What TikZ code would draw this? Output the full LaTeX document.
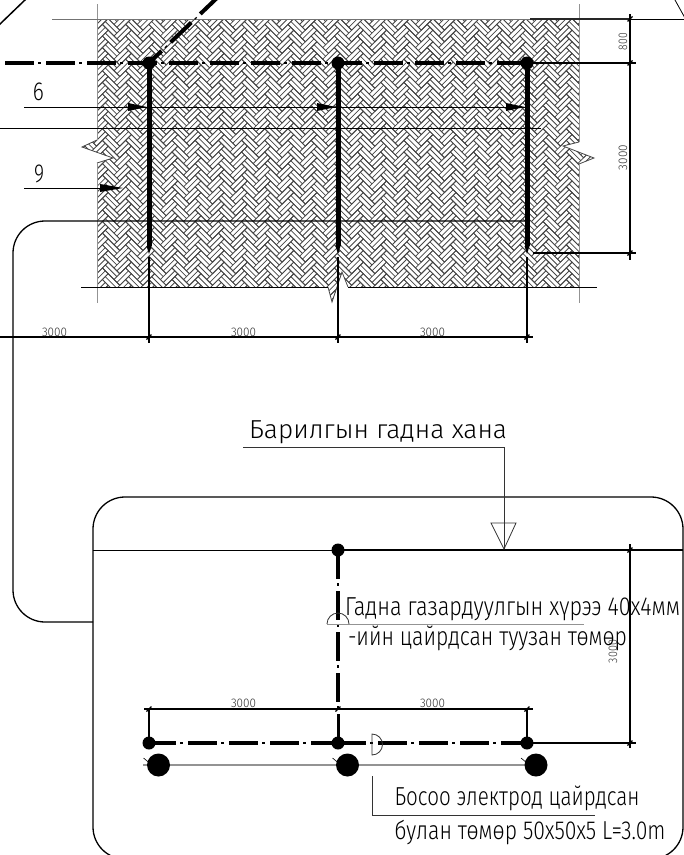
\documentclass[tikz,border=0pt]{standalone}
\usepackage{fontspec}
\usepackage{graphicx}
\setmainfont{Fira Sans Light}
\definecolor{hatchc}{gray}{0.27}
\definecolor{dimc}{gray}{0.2}
\tikzset{
  txt/.style={inner sep=0pt,outer sep=0pt,anchor=base west,text=black,font=\fontsize{26}{26}\selectfont},
  dimtxt/.style={inner sep=0pt,outer sep=0pt,anchor=base west,text=dimc,font=\fontsize{12.5}{13}\selectfont},
  thin line/.style={line width=0.8pt,black},
  mid line/.style={line width=1.3pt,black},
  gray line/.style={line width=1pt,gray!85},
  ground/.style={line width=4pt,black,dash pattern=on 28.5pt off 12.5pt},
  grounddot/.style={line width=1.3pt,black,dash pattern=on 3pt off 38pt},
  rod/.style={line width=5pt,black},
  stub/.style={line width=1.7pt,black},
  tip/.style={fill=black,draw=none},
}
\newcommand{\fitw}[2]{\resizebox{#1pt}{\height}{#2}}
\newcommand{\tickmark}[1]{\draw[line width=1.3pt] ($#1+(-2.5,2.5)$) -- ($#1+(2.5,-2.5)$);}
\usetikzlibrary{calc}
\begin{document}
\begin{tikzpicture}[x=1pt,y=-1pt]
\useasboundingbox (0,0) rectangle (684,855);
\clip (0,0) rectangle (684,855);
% ---- hatched ground
\begin{scope}
\clip (97,19) -- (579,19) -- (579,142) -- (563,146) -- (594,158) -- (579,164) -- (579,287) -- (348,287) -- (342,272) -- (332,302) -- (328,287) -- (97,287) -- (97,163) -- (113,158) -- (82,147) -- (97,140) -- cycle;
\begin{scope}[shift={(85,7)},rotate=-45]
\def\aa{8.2}
\foreach \k in {-3,...,28}{
 \foreach \m in {-2,...,24}{
  \pgfmathsetmacro{\uu}{(\k+2*\m)*\aa}
  \pgfmathsetmacro{\vv}{(\k-2*\m)*\aa}
  \draw[line width=0.8pt,hatchc] (\uu,\vv) rectangle ++(2*\aa,\aa)
     (\uu,\vv+0.5*\aa) -- ++(2*\aa,0)
     (\uu+2*\aa,\vv-\aa) rectangle ++(\aa,2*\aa)
     (\uu+2.5*\aa,\vv-\aa) -- ++(0,2*\aa);
 }}
\end{scope}
\end{scope}
% ---- hatch outline
\draw[thin line,hatchc] (97,163) -- (113,158) -- (82,147) -- (97,140);
\draw[thin line,hatchc] (579,142) -- (563,146) -- (594,158) -- (579,164);
\draw[thin line,hatchc] (328,287) -- (332,302) -- (342,272) -- (348,287);
\draw[gray line] (97,4) -- (97,140) (97,163) -- (97,303);
\draw[gray line] (579,4) -- (579,142) (579,164) -- (579,303);
\draw[line width=1pt,gray!90!black] (52,19) -- (530,19);
\draw[line width=1.4pt,black!85] (530,19) -- (630,19);
\draw[thin line] (630,19) -- (684,19);
\draw[thin line] (81,287) -- (328,287) (348,287) -- (597,287);
% ---- top diagonals
\draw[line width=1.5pt] (-1,25) -- (26,-1);
\draw[thin line] (675,0) -- (685,18);
% ---- ground conductor
\draw[ground] (5,63) -- (527,63);
\draw[grounddot,dash phase=8pt] (5,63) -- (527,63);
\draw[ground,dash phase=11pt] (149,63) -- (218,-3);
\draw[grounddot,dash phase=19pt] (149,63) -- (218,-3);
% ---- rods
\foreach \x/\n in {149/a,338/b,527/c}{
  \fill (\x,63) circle (6.5);
  \draw[rod] (\x,63) -- (\x,246);
  \fill[tip] (\x-2.5,246) -- (\x+2.5,246) -- (\x,254) -- cycle;
  \draw[stub] (\x,257) -- (\x,343);
  \fill[tip] (\x-21,103) -- (\x-2,107) -- (\x-21,111) -- cycle;
}
% ---- leaders top
\draw[thin line] (24,107) -- (527,107);
\draw[thin line] (0,128) -- (541,128);
\draw[thin line] (24,188) -- (100,188);
\fill[tip] (100,184) -- (123,188) -- (100,192) -- cycle;
\node[txt] (n6) at (33,100) {\fitw{11}{6}};
\node[txt] (n9) at (34,182) {\fitw{10}{9}};
% ---- dimensions top
\draw[mid line] (0,337) -- (533,337);
\foreach \x in {149,338,527}{\tickmark{(\x,337)}}
\node[dimtxt] (d1) at (42,336) {\fitw{25}{3000}};
\node[dimtxt] (d2) at (231,336) {\fitw{25}{3000}};
\node[dimtxt] (d3) at (420,336) {\fitw{25}{3000}};
\draw[mid line] (630,14) -- (630,260);
\draw[mid line] (527,63) -- (636,63) (533,253) -- (636,253);
\foreach \y in {19,63,253}{\tickmark{(630,\y)}}
\node[dimtxt,rotate=90] (d4) at (627,50) {\fitw{17}{800}};
\node[dimtxt,rotate=90] (d5) at (627,170) {\fitw{25}{3000}};
% ---- connection and plan frame
\draw[mid line] (527,221) -- (45,221) arc[start angle=270,end angle=180,radius=32] -- (13,590) arc[start angle=180,end angle=90,radius=32] -- (93,622);
\draw[mid line] (93,529) arc[start angle=180,end angle=270,radius=32] -- (651,497) arc[start angle=270,end angle=360,radius=32] -- (683,827) arc[start angle=0,end angle=90,radius=32] -- (125,859) arc[start angle=90,end angle=180,radius=32] -- cycle;
\draw[line width=1pt] (93,550) -- (338,550);
\draw[line width=1.5pt] (338,550) -- (683,550);
% ---- wall label
\node[txt] (wall) at (249,438) {\fitw{258}{Барилгын гадна хана}};
\draw[thin line,black!80] (243,447) -- (504,447) -- (504,549);
\draw[thin line,black!80] (491,523) -- (516,523) -- (504,549) -- cycle;
% ---- plan conductors
\draw[ground] (338,550) -- (338,712);
\draw[grounddot,dash phase=8pt] (338,550) -- (338,712);
\draw[line width=3pt] (338,714) -- (338,743);
\draw[ground] (147,743) -- (338,743);
\draw[grounddot,dash phase=8pt] (147,743) -- (338,743);
\draw[ground] (337,743) -- (527,743);
\draw[grounddot,dash phase=8pt] (337,743) -- (527,743);
\fill (338,550) circle (6.5);
\foreach \x in {149,338,527}{\fill (\x,743) circle (6.5);}
\draw[line width=1.3pt] (149,709) -- (149,743) (527,709) -- (527,743);
\draw[mid line] (144,709) -- (533,709);
\foreach \x in {149,338,527}{\tickmark{(\x,709)}}
\node[dimtxt] (d6) at (231,707) {\fitw{25}{3000}};
\node[dimtxt] (d7) at (420,707) {\fitw{25}{3000}};
% right dimension plan
\draw[mid line] (630,544) -- (630,748);
\draw[mid line] (527,743) -- (636,743);
\tickmark{(630,550)}
\tickmark{(630,743)}
\node[dimtxt,rotate=90] (d8) at (617,663) {\fitw{23}{3000}};
% ---- electrodes
\draw[gray line,line width=1.1pt] (143,765) -- (527,765);
\foreach \x in {158.5,347.5,536}{
  \fill (\x,765) circle (11.5);
  \draw[line width=0.6pt] (\x-15,758) -- (\x-9,763);
}
\draw[thin line,black!80] (372,755) arc[start angle=90,end angle=-90,radius=10.5] -- cycle;
\draw[thin line,black!80] (372,776) -- (372,815) -- (595,815);
\node[txt] (el1) at (394.5,805) {\fitw{245}{Босоо электрод цайрдсан}};
\node[txt] (el2) at (394.5,839) {\fitw{271}{булан төмөр 50x50x5 L=3.0m}};
% ---- conductor label
\draw[line width=1pt,gray!85] (327,624) -- (584,624);
\draw[thin line,black!80] (327,624) arc[start angle=180,end angle=360,radius=11];
\node[txt] (gr1) at (345,615) {\fitw{335}{Гадна газардуулгын хүрээ 40x4мм}};
\node[txt] (gr2) at (348,645) {\fitw{279}{-ийн цайрдсан туузан төмөр}};
\end{tikzpicture}
\end{document}
